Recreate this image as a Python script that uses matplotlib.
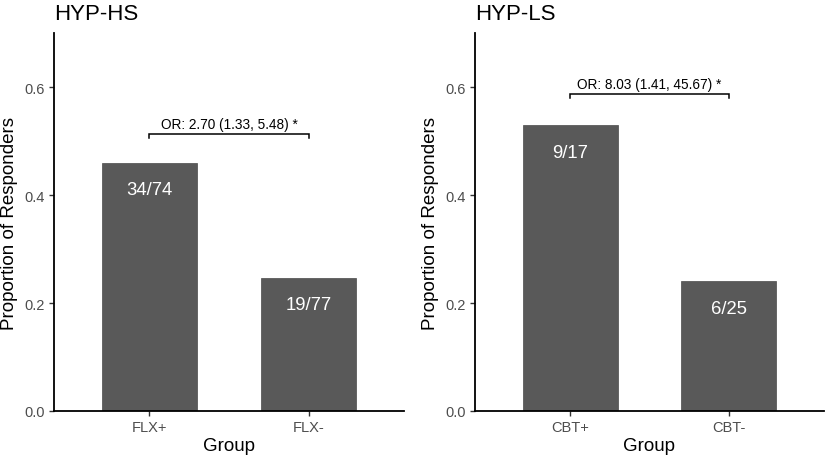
import matplotlib
matplotlib.use("Agg")
from matplotlib import pyplot as plt

plt.rcParams["font.family"] = ["Liberation Sans", "DejaVu Sans"]

# panel data
titles = ["HYP-HS", "HYP-LS"]
groups = [["FLX+", "FLX-"], ["CBT+", "CBT-"]]
responders = [[34, 19], [9, 6]]
totals = [[74, 77], [17, 25]]
or_labels = ["OR: 2.70 (1.33, 5.48) *", "OR: 8.03 (1.41, 45.67) *"]
bracket_y = [0.513, 0.587]
yticks = [0.0, 0.2, 0.4, 0.6]

BAR_COLOR = "#595959"
W, H = 829, 460

fig = plt.figure(figsize=(W / 100, H / 100), dpi=100)
# axes boxes in pixels: left, right
boxes = [(54, 404), (475, 824)]
bottom_px, top_px = 412, 34

for i in range(2):
    l, r = boxes[i]
    ax = fig.add_axes([l / W, (H - bottom_px) / H, (r - l) / W, (bottom_px - top_px) / H])
    props = [n / d for n, d in zip(responders[i], totals[i])]
    xs = [1, 2]
    ax.bar(xs, props, width=0.6, color=BAR_COLOR, edgecolor="#4a4a4a", linewidth=0.5)
    for x, p, n, d in zip(xs, props, responders[i], totals[i]):
        ax.text(x, p - 0.05, f"{n}/{d}", ha="center", va="center",
                color="white", fontsize=13.3)
    # significance bracket
    by = bracket_y[i]
    ax.plot([1, 1, 2, 2], [by - 0.008, by, by, by - 0.008], color="black", lw=1.1,
            solid_joinstyle="miter")
    ax.text(1.5, by + 0.005, or_labels[i], ha="center", va="bottom", fontsize=9.8)

    ax.set_xlim(0.4, 2.6)
    ax.set_ylim(0, 0.7)
    ax.set_xticks(xs)
    ax.set_xticklabels(groups[i])
    ax.set_yticks(yticks)
    ax.set_yticklabels([f"{t:.1f}" for t in yticks])
    for s in ["top", "right"]:
        ax.spines[s].set_visible(False)
    for s in ["left", "bottom"]:
        ax.spines[s].set_linewidth(1.3)
    ax.tick_params(axis="both", direction="out", length=3.5, width=1.0,
                   color="#333333", labelcolor="#4d4d4d", labelsize=10.5, pad=3)
    ax.set_xlabel("Group", fontsize=13.5, labelpad=2)
    ax.set_ylabel("Proportion of Responders", fontsize=13.5, labelpad=5)
    ax.set_title(titles[i], loc="left", fontsize=16, pad=10, x=0.0)

fig.savefig("out.png", dpi=100)
